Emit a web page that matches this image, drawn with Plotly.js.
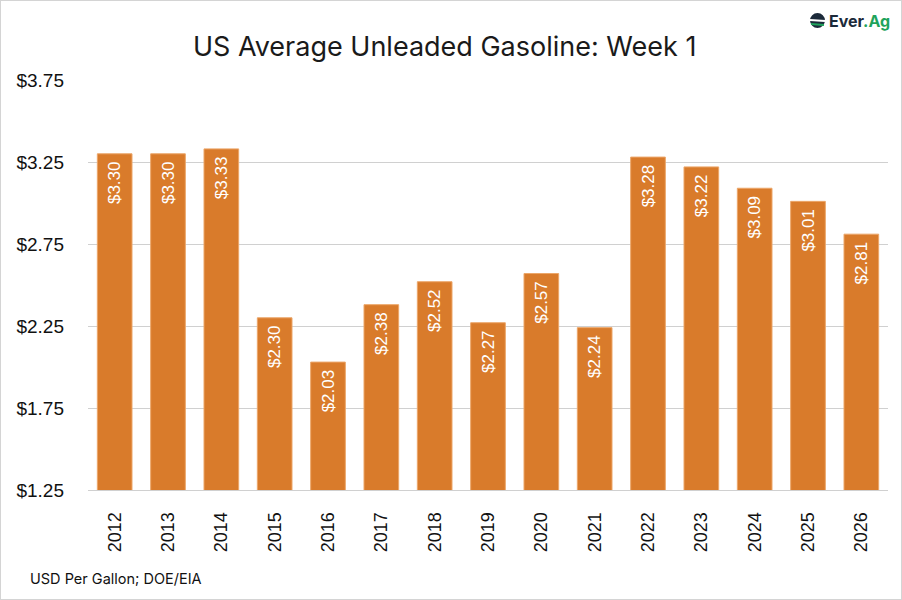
<!DOCTYPE html>
<html>
<head>
<meta charset="utf-8">
<script src="https://cdn.plot.ly/plotly-3.0.1.min.js"></script>
<style>
html,body{margin:0;padding:0;background:#fff;}
#wrap{position:relative;width:902px;height:600px;}
#chart{width:902px;height:600px;}
#frame{position:absolute;left:0;top:0;width:900px;height:598px;border:1px solid #d4d4d4;pointer-events:none;}
</style>
</head>
<body>
<div id="wrap"><div id="chart"></div><div id="frame"></div></div>
<script>
const years = ['2012','2013','2014','2015','2016','2017','2018','2019','2020','2021','2022','2023','2024','2025','2026'];
const prices = [3.30,3.30,3.33,2.30,2.03,2.38,2.52,2.27,2.57,2.24,3.28,3.22,3.09,3.01,2.81];
const labels = prices.map(v => '$' + v.toFixed(2) + '\u00a0');

const trace = {
  type: 'bar',
  x: years,
  y: prices,
  text: labels,
  textposition: 'inside',
  insidetextanchor: 'end',
  textangle: -90,
  textfont: {family: 'Liberation Sans, Arial, sans-serif', size: 17, color: '#ffffff'},
  marker: {color: '#D97B2B', line: {color: '#ECA669', width: 1}},
  hoverinfo: 'none',
  cliponaxis: true
};

const layout = {
  width: 902, height: 600,
  margin: {l: 88, r: 14, t: 80, b: 110},
  paper_bgcolor: '#ffffff',
  plot_bgcolor: '#ffffff',
  bargap: 0.35,
  showlegend: false,
  title: {text: 'US Average Unleaded Gasoline: Week 1', x: 0.493, xanchor: 'center', y: 0.922, yanchor: 'middle',
          font: {family: 'Inter, Noto Sans, sans-serif', size: 27, color: '#1a1a1a'}},
  xaxis: {
    type: 'category',
    tickangle: -90,
    tickfont: {family: 'Liberation Sans, Arial, sans-serif', size: 18, color: '#111111'},
    showgrid: false, zeroline: false,
    showline: true, linecolor: '#d0d0d0', linewidth: 1,
    ticks: '', ticklen: 0, ticklabelstandoff: 14
  },
  yaxis: {
    range: [1.25, 3.75],
    dtick: 0.5, tick0: 1.25,
    tickformat: '$.2f',
    tickfont: {family: 'Liberation Sans, Arial, sans-serif', size: 19, color: '#111111'},
    showgrid: true, gridcolor: '#d0d0d0', gridwidth: 1,
    zeroline: false, showline: false,
    ticks: '', ticklabelstandoff: 23
  },
  shapes: [
    {type: 'circle', xref: 'paper', yref: 'paper', x0: (810-88)/800, x1: (825-88)/800,
     y0: (490-28)/410, y1: (490-13)/410, fillcolor: '#1c2a3a', line: {width: 0}},
    {type: 'line', xref: 'paper', yref: 'paper', x0: (810-88)/800, x1: (825-88)/800,
     y0: (490-20)/410, y1: (490-21)/410, line: {color: '#ffffff', width: 2}},
    {type: 'line', xref: 'paper', yref: 'paper', x0: (811-88)/800, x1: (824-88)/800,
     y0: (490-24)/410, y1: (490-25)/410, line: {color: '#1fa35c', width: 2}}
  ],
  annotations: [
    {text: '<b>Ever<span style="color:#1fa35c">.Ag</span></b>', xref: 'paper', yref: 'paper',
     x: (827-88)/800, y: (490-21)/410, xanchor: 'left', yanchor: 'middle', showarrow: false,
     font: {family: 'Inter, Noto Sans, sans-serif', size: 16, color: '#1c2a3a'}},
    {text: 'USD Per Gallon; DOE/EIA', xref: 'paper', yref: 'paper',
     x: (28-88)/800, y: (490-578)/410, xanchor: 'left', yanchor: 'middle', showarrow: false,
     font: {family: 'Inter, Noto Sans, sans-serif', size: 14.5, color: '#111111'}}
  ]
};

Plotly.newPlot('chart', [trace], layout, {displayModeBar: false, staticPlot: true});
</script>
</body>
</html>
